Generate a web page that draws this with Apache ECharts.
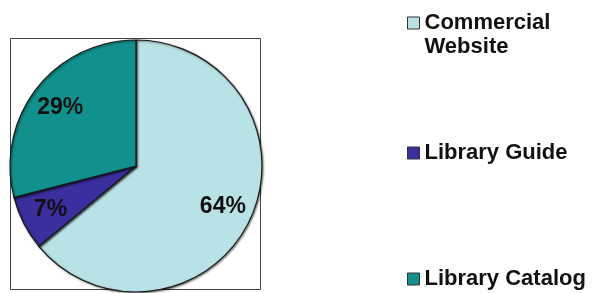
<!DOCTYPE html>
<html>
<head>
<meta charset="utf-8">
<script src="https://cdn.jsdelivr.net/npm/echarts@6/dist/echarts.min.js"></script>
<style>
html,body{margin:0;padding:0;background:#fff;}
#chart{width:593px;height:293px;}
</style>
</head>
<body>
<div id="chart"></div>
<script>
const categories = ['Commercial Website', 'Library Guide', 'Library Catalog'];
const legendLabels = ['\nCommercial\nWebsite', 'Library Guide', 'Library Catalog'];
const values = [64, 7, 29];
const colors = ['#b9e2e6', '#3a2f9e', '#11918d'];

const chart = echarts.init(document.getElementById('chart'), null, {renderer: 'canvas'});
const data = categories.map((n, i) => ({name: n, value: values[i], itemStyle: {color: colors[i]}}));
const legendTops = [-13, 141, 267];
const FONT = '"Liberation Sans", Arial, sans-serif';

const legends = categories.map((n, i) => ({
  orient: 'vertical',
  left: 407,
  top: legendTops[i],
  padding: 0,
  data: [n],
  icon: 'rect',
  itemWidth: 12,
  itemHeight: 12,
  itemGap: 0,
  selectedMode: false,
  itemStyle: {borderColor: '#333', borderWidth: 1},
  formatter: () => legendLabels[i],
  textStyle: {
    fontFamily: FONT, fontWeight: 'bold', fontSize: 22, color: '#111',
    lineHeight: 24
  }
}));

chart.setOption({
  animation: false,
  backgroundColor: '#fff',
  legend: legends,
  graphic: [{
    type: 'rect', z: 0,
    shape: {x: 10.5, y: 38.5, width: 250, height: 251},
    style: {fill: 'none', stroke: '#444', lineWidth: 1}
  }],
  series: [{
    type: 'pie',
    center: [136, 166],
    radius: 126,
    startAngle: 90,
    clockwise: true,
    silent: true,
    z: 2,
    label: {show: false},
    labelLine: {show: false},
    itemStyle: {borderColor: '#1a1a1a', borderWidth: 1.2, shadowColor: 'rgba(0,0,0,0.5)', shadowBlur: 2, shadowOffsetX: 1, shadowOffsetY: 1},
    data: data
  }, {
    type: 'pie',
    center: [136, 166],
    radius: [60, 126],
    startAngle: 90,
    clockwise: true,
    silent: true,
    z: 3,
    itemStyle: {color: 'rgba(0,0,0,0)', borderWidth: 0},
    label: {
      show: true, position: 'inside', formatter: '{c}%',
      fontFamily: FONT, fontWeight: 'bold', fontSize: 23, color: '#111'
    },
    labelLine: {show: false},
    data: categories.map((n, i) => ({name: n, value: values[i]}))
  }]
});
</script>
</body>
</html>
